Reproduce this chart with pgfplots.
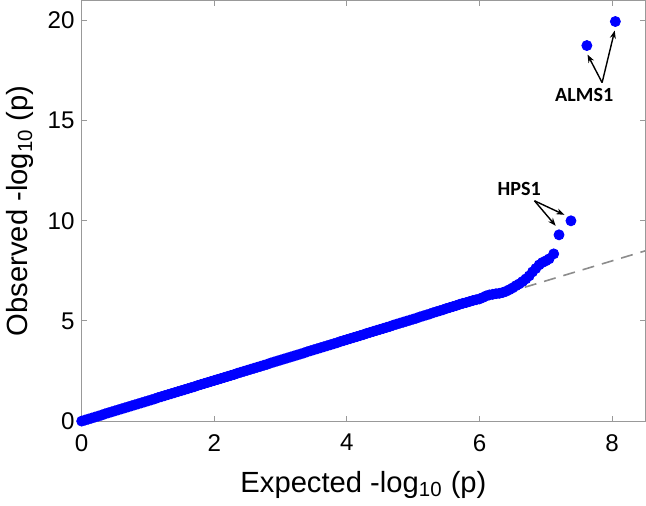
\documentclass[border=0pt]{standalone}
\usepackage{fontspec}
\setmainfont{Liberation Sans}
\newfontfamily\calib{Carlito}
\usepackage{pgfplots}
\pgfplotsset{compat=1.18}
\usetikzlibrary{arrows.meta}

\begin{document}
\begin{tikzpicture}
\begin{axis}[
    scale only axis, width=280pt, height=209pt,
    xmin=0, xmax=8.5, ymin=0, ymax=21,
    xtick={0,2,4,6,8}, ytick={0,5,10,15,20},
    tick align=inside, major tick length=2.5pt,
    axis line style={black!40}, tick style={black!40, line width=0.5pt},
    /pgf/number format/assume math mode=true,
    ticklabel style={font=\fontsize{12}{14}\selectfont},
    xticklabel style={yshift=-3pt},
    label style={font=\fontsize{14.5}{17}\selectfont},
    xlabel style={yshift=-3pt},
    xlabel={Expected -log\textsubscript{10} (p)},
    ylabel={Observed -log\textsubscript{10} (p)},
    clip=false
]
% observed vs expected -log10(p)
\addplot[only marks, mark=*, mark size=2.5pt, draw=blue, fill=blue] coordinates {
    (0,0) (0.05,0.05) (0.1,0.1) (0.15,0.15) (0.2,0.2) (0.25,0.25) (0.3,0.3) (0.35,0.36)
    (0.4,0.41) (0.45,0.46) (0.5,0.51) (0.55,0.56) (0.6,0.61) (0.65,0.66) (0.7,0.71) (0.75,0.76)
    (0.8,0.81) (0.85,0.86) (0.9,0.91) (0.95,0.96) (1.0,1.01) (1.05,1.06) (1.1,1.11) (1.15,1.17)
    (1.2,1.22) (1.25,1.27) (1.3,1.32) (1.35,1.37) (1.4,1.42) (1.45,1.47) (1.5,1.52) (1.55,1.57)
    (1.6,1.62) (1.65,1.67) (1.7,1.72) (1.75,1.78) (1.8,1.83) (1.85,1.88) (1.9,1.93) (1.95,1.98)
    (2.0,2.03) (2.05,2.08) (2.1,2.13) (2.15,2.18) (2.2,2.23) (2.25,2.28) (2.3,2.33) (2.35,2.39)
    (2.4,2.44) (2.45,2.49) (2.5,2.54) (2.55,2.59) (2.6,2.64) (2.65,2.69) (2.7,2.74) (2.75,2.79)
    (2.8,2.84) (2.85,2.9) (2.9,2.95) (2.95,3.0) (3.0,3.05) (3.05,3.1) (3.1,3.15) (3.15,3.2)
    (3.2,3.25) (3.25,3.3) (3.3,3.35) (3.35,3.4) (3.4,3.46) (3.45,3.51) (3.5,3.56) (3.55,3.61)
    (3.6,3.66) (3.65,3.71) (3.7,3.76) (3.75,3.81) (3.8,3.86) (3.85,3.91) (3.9,3.97) (3.95,4.02)
    (4.0,4.07) (4.05,4.12) (4.1,4.17) (4.15,4.22) (4.2,4.27) (4.25,4.32) (4.3,4.38) (4.35,4.43)
    (4.4,4.48) (4.45,4.53) (4.5,4.58) (4.55,4.63) (4.6,4.68) (4.65,4.73) (4.7,4.79) (4.75,4.84)
    (4.8,4.89) (4.85,4.94) (4.9,4.99) (4.95,5.04) (5.0,5.09) (5.05,5.14) (5.1,5.2) (5.15,5.25)
    (5.2,5.3) (5.25,5.35) (5.3,5.41) (5.35,5.46) (5.4,5.51) (5.45,5.56) (5.5,5.62) (5.55,5.67)
    (5.6,5.72) (5.65,5.77) (5.7,5.83) (5.75,5.88) (5.8,5.92) (5.85,5.97) (5.9,6.02) (5.95,6.06)
    (6.0,6.1) (6.05,6.17) (6.1,6.25) (6.15,6.3) (6.2,6.33) (6.25,6.36) (6.3,6.38) (6.35,6.42)
    (6.4,6.48) (6.45,6.56) (6.5,6.65) (6.55,6.76) (6.6,6.85) (6.65,6.97) (6.7,7.1) (6.75,7.25)
    (6.8,7.45) (6.85,7.62) (6.9,7.8) (6.95,7.92) (7.0,8.0) (7.05,8.1) (7.12,8.35)
    (7.2,9.3) (7.38,10.0) (7.62,18.75) (8.05,19.95)
};
% expected line y = x
\addplot[black!45, line width=0.8pt, dash pattern=on 6pt off 4pt] coordinates {(0,0) (8.5,8.5)};

\node[font=\calib\bfseries\fontsize{10}{12}\selectfont] at (axis cs:7.58,16.3) {ALMS1};
\draw[-{Stealth[length=4pt,width=3pt]}, line width=0.7pt] (axis cs:7.85,16.9) -- (axis cs:7.63,18.3);
\draw[-{Stealth[length=4pt,width=3pt]}, line width=0.7pt] (axis cs:7.85,16.9) -- (axis cs:8.04,19.5);

\node[font=\calib\bfseries\fontsize{10}{12}\selectfont] at (axis cs:6.6,11.6) {HPS1};
\draw[-{Stealth[length=4pt,width=3pt]}, line width=0.7pt] (axis cs:6.83,11.0) -- (axis cs:7.28,10.3);
\draw[-{Stealth[length=4pt,width=3pt]}, line width=0.7pt] (axis cs:6.83,11.0) -- (axis cs:7.15,9.75);
\end{axis}
\end{tikzpicture}
\end{document}
